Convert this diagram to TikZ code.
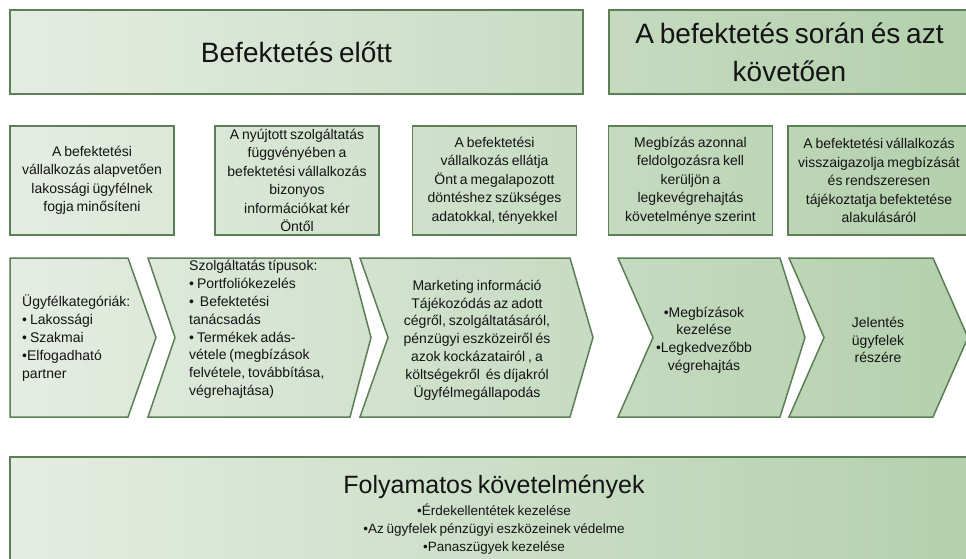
\documentclass[tikz,border=0pt]{standalone}
\usepackage{fontspec}
\setmainfont{Liberation Sans}[WordSpace=0.75]
\usetikzlibrary{positioning}
\definecolor{zoldvil}{HTML}{E5EDE3}
\definecolor{zoldsot}{HTML}{B3D0AC}
\definecolor{keret}{HTML}{5C7F55}
\definecolor{betu}{HTML}{141414}

\begin{document}
\begin{tikzpicture}[x=1pt,y=-1pt]
    \tikzstyle{every node}=[inner sep=0,text=betu]
    \tikzstyle{keretvonal}=[draw=keret,line width=1.5]
    \tikzstyle{doboz}=[keretvonal,rectangle,align=center,font=\fontsize{14}{18.5}\selectfont]
    \tikzstyle{nyil}=[keretvonal,line join=miter]
    \tikzstyle{nagy}=[font=\fontsize{28}{38}\selectfont]
    \tikzstyle{felsorol}=[font=\fontsize{14}{17.8}\selectfont,align=left,anchor=west]
    \tikzstyle{kozep}=[font=\fontsize{14}{17.8}\selectfont,align=center]
    \useasboundingbox (0,0) rectangle (966,559);

    % fejlec
    \node[doboz,nagy,minimum width=573,minimum height=84,left color=zoldvil!99!zoldsot,right color=zoldvil!40!zoldsot] (elotte) at (296.5,52) {Befektetés előtt};
    \node[doboz,nagy,minimum width=361,minimum height=84,left color=zoldvil!37!zoldsot,right color=zoldsot] (utana) at (789.5,52) {A befektetés során és azt\\követően};

    % masodik sor
    \node[doboz,minimum width=164,minimum height=109,left color=zoldvil!99!zoldsot,right color=zoldvil!82!zoldsot] (minosit) at (92,180.5) {A befektetési\\vállalkozás alapvetően\\lakossági ügyfélnek\\fogja minősíteni};
    \node[doboz,minimum width=164,minimum height=109,left color=zoldvil!78!zoldsot,right color=zoldvil!61!zoldsot] (info) at (297,180.5) {A nyújtott szolgáltatás\\függvényében a\\befektetési vállalkozás\\bizonyos\\információkat kér\\Öntől};
    \node[doboz,minimum width=164,minimum height=109,left color=zoldvil!57!zoldsot,right color=zoldvil!40!zoldsot] (ellat) at (494.5,180.5) {A befektetési\\vállalkozás ellátja\\Önt a megalapozott\\döntéshez szükséges\\adatokkal, tényekkel};
    \node[doboz,minimum width=164,minimum height=109,left color=zoldvil!37!zoldsot,right color=zoldvil!20!zoldsot] (feldolg) at (690.5,180.5) {Megbízás azonnal\\feldolgozásra kell\\kerüljön a\\legkevégrehajtás\\követelménye szerint};
    \node[doboz,minimum width=182,minimum height=109,left color=zoldvil!18!zoldsot,right color=zoldsot] (visszaig) at (879,180.5) {A befektetési vállalkozás\\visszaigazolja megbízását\\és rendszeresen\\tájékoztatja befektetése\\alakulásáról};

    % folyamat
    \draw[nyil,left color=zoldvil!99!zoldsot,right color=zoldvil!84!zoldsot] (10,258) -- (128,258) -- (156,337.5) -- (128,417) -- (10,417) -- cycle;
    \draw[nyil,left color=zoldvil!85!zoldsot,right color=zoldvil!62!zoldsot] (148,258) -- (350,258) -- (371,337.5) -- (350,417) -- (148,417) -- (175,337.5) -- cycle;
    \draw[nyil,left color=zoldvil!63!zoldsot,right color=zoldvil!39!zoldsot] (360,258) -- (570,258) -- (593,337.5) -- (570,417) -- (360,417) -- (388,337.5) -- cycle;
    \draw[nyil,left color=zoldvil!36!zoldsot,right color=zoldvil!17!zoldsot] (618,258) -- (780,258) -- (805,337.5) -- (780,417) -- (618,417) -- (653,337.5) -- cycle;
    \draw[nyil,left color=zoldvil!18!zoldsot,right color=zoldsot] (789,258) -- (933,258) -- (968,337.5) -- (933,417) -- (789,417) -- (824,337.5) -- cycle;

    \node[felsorol] (kateg) at (22,338) {Ügyfélkategóriák:\\• Lakossági\\• Szakmai\\•Elfogadható\\partner};
    \node[felsorol] (tipus) at (189,329.5) {Szolgáltatás típusok:\\• Portfoliókezelés\\•\ \ Befektetési\\tanácsadás\\• Termékek adás-\\vétele (megbízások\\felvétele, továbbítása,\\végrehajtása)};
    \node[kozep] (marketing) at (477,340) {Marketing információ\\Tájékozódás az adott\\cégről, szolgáltatásáról,\\pénzügyi eszközeiről és\\azok kockázatairól , a\\költségekről\ \ és díjakról\\Ügyfélmegállapodás};
    \node[kozep] (megbiz) at (704,340) {•Megbízások\\kezelése\\•Legkedvezőbb\\végrehajtás};
    \node[kozep] (jelentes) at (878,340) {Jelentés\\ügyfelek\\részére};

    % folyamatos kovetelmenyek
    \draw[keretvonal,left color=zoldvil!99!zoldsot,right color=zoldsot] (10,457) rectangle (978,575);
    \node[font=\fontsize{25}{30}\selectfont] (folyam) at (494,487) {Folyamatos követelmények};
    \node[font=\fontsize{13.5}{18}\selectfont,align=center] (kovet) at (494,529) {•Érdekellentétek kezelése\\•Az ügyfelek pénzügyi eszközeinek védelme\\•Panaszügyek kezelése};
\end{tikzpicture}
\end{document}
